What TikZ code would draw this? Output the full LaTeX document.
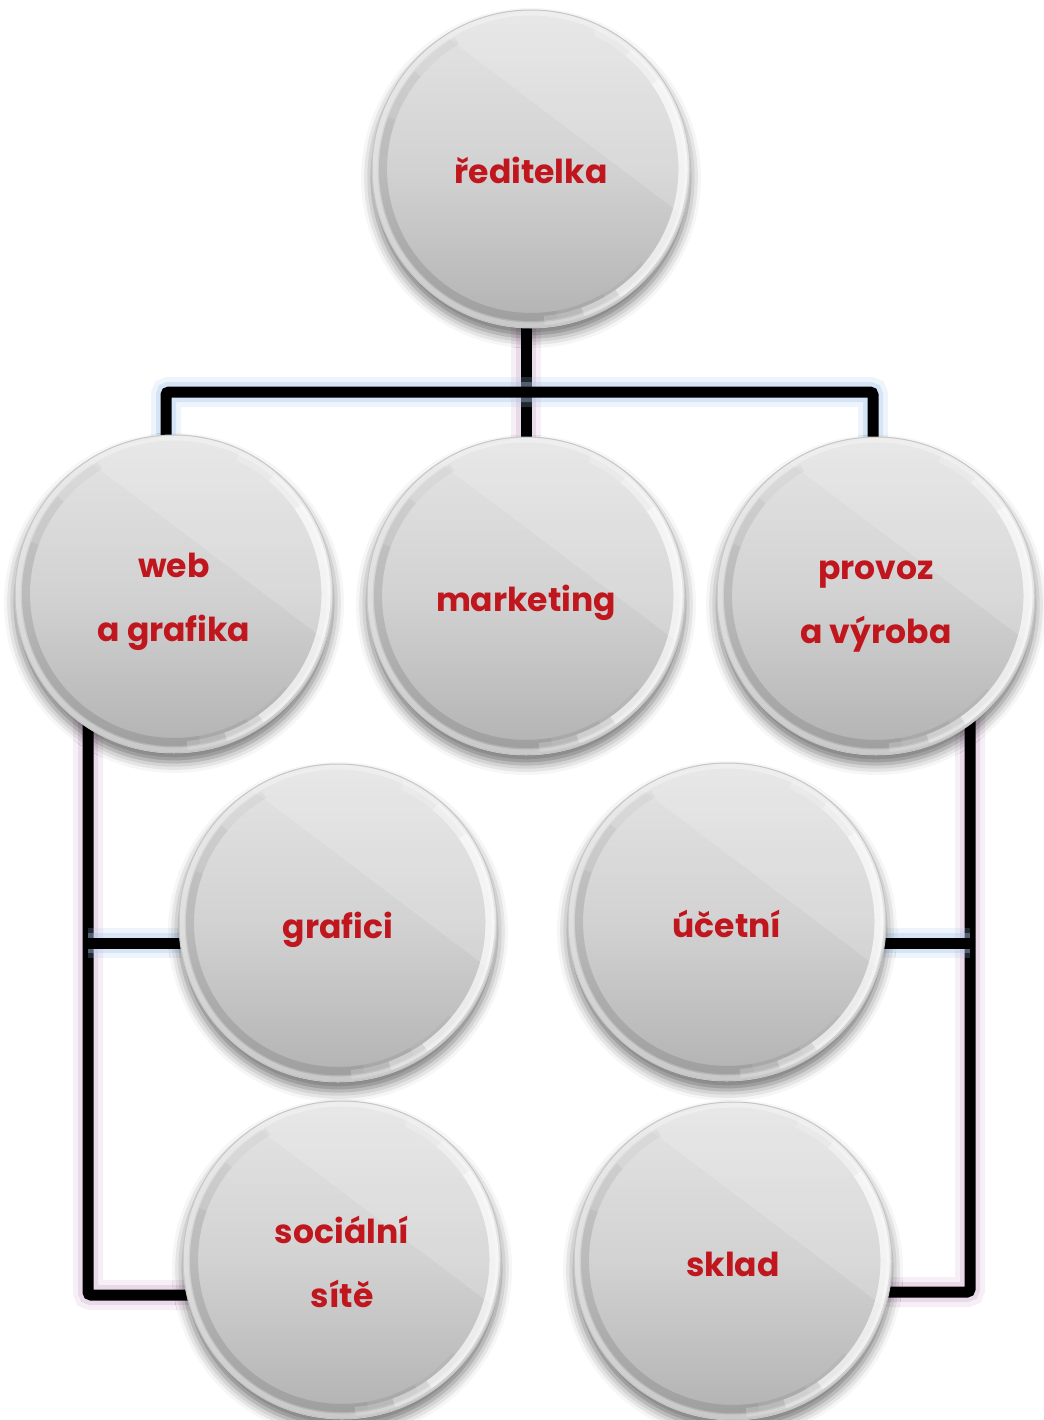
\documentclass[tikz,border=0pt]{standalone}
\usepackage{fontspec}
\newfontfamily\badgefont{Poppins}
\usetikzlibrary{shadows.blur}
\pgfdeclarelayer{back}
\pgfsetlayers{back,main}
\definecolor{badgered}{RGB}{192,22,30}
\definecolor{badgetop}{RGB}{228,228,228}
\definecolor{badgemid}{RGB}{210,210,210}
\definecolor{badgebot}{RGB}{178,178,178}
\definecolor{hglow}{RGB}{170,200,235}
\definecolor{vglow}{RGB}{210,175,210}
\newcommand{\badgestrut}{\rule{0pt}{40pt}}
\begin{document}
\begin{tikzpicture}[x=1pt, y=1pt,
  badge/.style={circle, minimum size=318pt, inner sep=0pt, align=center,
    text=badgered, font=\badgefont\bfseries\fontsize{33}{64}\selectfont,
    execute at begin node={\badgestrut},
    execute at end node={\rule[-10pt]{0pt}{10pt}},
    draw=gray!45, line width=1pt,
    top color=badgetop, bottom color=badgebot, middle color=badgemid,
    blur shadow={shadow xshift=0pt, shadow yshift=-9pt, shadow blur radius=11pt, shadow opacity=55},
    path picture={
      \fill[white, opacity=.16] ([shift={(-95,140)}]path picture bounding box.center)
        -- ([shift={(150,-45)}]path picture bounding box.center)
        -- ([shift={(200,200)}]path picture bounding box.center) -- cycle;
      \draw[white, line width=5pt, opacity=.3] (path picture bounding box.center) circle[radius=156];
      \foreach \a/\b/\o in {120/320/.03, 140/300/.04, 160/280/.04}
        \draw[black, line width=8pt, opacity=\o] ([shift={(\a:148)}]path picture bounding box.center)
          arc[start angle=\a, end angle=\b, radius=148];
      \foreach \a/\b/\o in {-85/65/.2, -70/50/.3, -55/35/.45}
        \draw[white, line width=9pt, opacity=\o] ([shift={(\a:152)}]path picture bounding box.center)
          arc[start angle=\a, end angle=\b, radius=152];}},
  conn/.style={line width=11pt, rounded corners=3pt,
    preaction={draw=#1, line width=30pt, opacity=.2},
    preaction={draw=#1, line width=20pt, opacity=.35}}]
\useasboundingbox (0,0) rectangle (1043,-1420);
\node[badge] (boss) at (531,-169) {ředitelka};
\node[badge] (web) at (174,-594) {\badgestrut web\\a grafika};
\node[badge] (mkt) at (526,-596) {marketing};
\node[badge] (prov) at (876,-596) {\badgestrut provoz\\a výroba};
\node[badge] (graf) at (338,-923) {grafici};
\node[badge] (acct) at (727,-922) {účetní};
\node[badge] (social) at (342,-1260) {\badgestrut sociální\\sítě};
\node[badge] (store) at (733,-1261) {sklad};
\coordinate (barL) at (166,-392);
\coordinate (barR) at (873,-392);
\coordinate (jg) at (88,-943);
\coordinate (js) at (88,-1295);
\coordinate (ja) at (970,-943);
\coordinate (jk) at (970,-1292);
\begin{pgfonlayer}{back}
\draw[conn=vglow] (mkt) -- (mkt |- boss);
\draw[conn=hglow] (barL |- web) -- (barL) -- (barR) -- (barR |- prov);
\draw[conn=vglow] (js |- web) -- (js) -- (js -| social);
\draw[conn=vglow] (jk |- prov) -- (jk) -- (jk -| store);
\draw[conn=hglow] (jg) -- (jg -| graf);
\draw[conn=hglow] (ja) -- (ja -| acct);
\end{pgfonlayer}
\end{tikzpicture}
\end{document}
